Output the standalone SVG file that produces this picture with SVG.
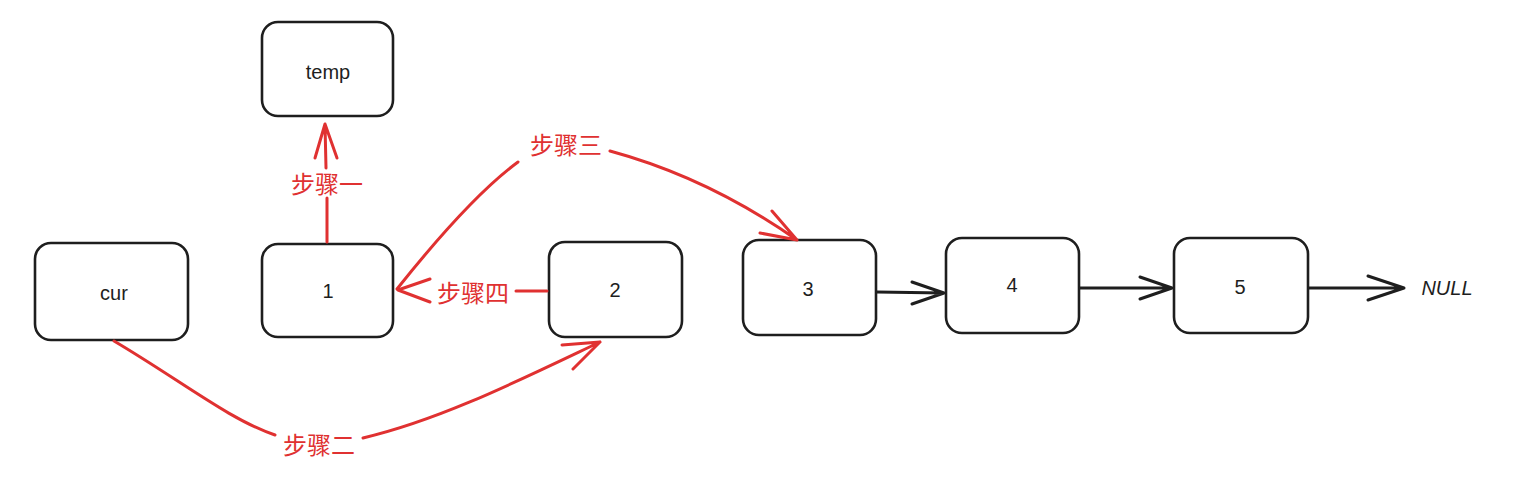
<svg xmlns="http://www.w3.org/2000/svg" width="1517" height="478" viewBox="0 0 1517 478">
<style>
.box{fill:#fff;stroke:#1e1e1e;stroke-width:2.6}
.t{font-family:"Liberation Sans",sans-serif;font-size:20px;fill:#1e1e1e;text-anchor:middle;dominant-baseline:central}
.lbl{font-family:"Noto Sans CJK SC",sans-serif;font-size:24px;fill:#e03131;text-anchor:middle;dominant-baseline:central}
.r{fill:none;stroke:#e03131;stroke-width:3;stroke-linecap:round;stroke-linejoin:round}
.k{fill:none;stroke:#1e1e1e;stroke-width:3;stroke-linecap:round;stroke-linejoin:round}
</style>
<rect width="1517" height="478" fill="#fff"/>
<g id="node-temp"><rect class="box" x="262" y="22" width="131" height="94" rx="16"/><text class="t" x="328" y="72">temp</text></g>
<g id="node-cur"><rect class="box" x="35" y="243" width="153" height="97" rx="16"/><text class="t" x="114" y="293">cur</text></g>
<g id="node-1"><rect class="box" x="262" y="244" width="131" height="93" rx="16"/><text class="t" x="328" y="291">1</text></g>
<g id="node-2"><rect class="box" x="549" y="242" width="133" height="95" rx="16"/><text class="t" x="615" y="290">2</text></g>
<g id="node-3"><rect class="box" x="743" y="240" width="133" height="95" rx="16"/><text class="t" x="808" y="289">3</text></g>
<g id="node-4"><rect class="box" x="946" y="238" width="133" height="95" rx="16"/><text class="t" x="1012" y="285">4</text></g>
<g id="node-5"><rect class="box" x="1174" y="238" width="134" height="95" rx="16"/><text class="t" x="1240" y="287">5</text></g>
<g id="null"><text class="t" x="1447" y="288" font-style="italic" font-size="18">NULL</text></g>
<g id="connectors">
<path class="r" d="M327 242 L327 198 M326 168 L325 124 M315 158 L325 124 L337 158"/>
<text class="lbl" x="327" y="182">步骤一</text>
<path class="r" d="M397 289 C440 235 480 190 518 162 M610 151 C680 170 740 200 797 240 M772 211 L797 240 L760 233"/>
<text class="lbl" x="566" y="143">步骤三</text>
<path class="r" d="M547 291 L516 291 M430 279 L398 290 L430 302"/>
<text class="lbl" x="473" y="291">步骤四</text>
<path class="r" d="M114 341 C180 380 230 420 275 435 M363 438 C440 420 520 380 600 342 M562 345 L600 342 L573 369"/>
<text class="lbl" x="319" y="443">步骤二</text>
<path class="k" d="M877 292 L944 293 M912 282 L944 293 L912 304"/>
<path class="k" d="M1080 288 L1172 288 M1140 277 L1172 288 L1140 299"/>
<path class="k" d="M1309 288 L1404 288 M1368 276 L1404 288 L1368 300"/>
</g>
</svg>
